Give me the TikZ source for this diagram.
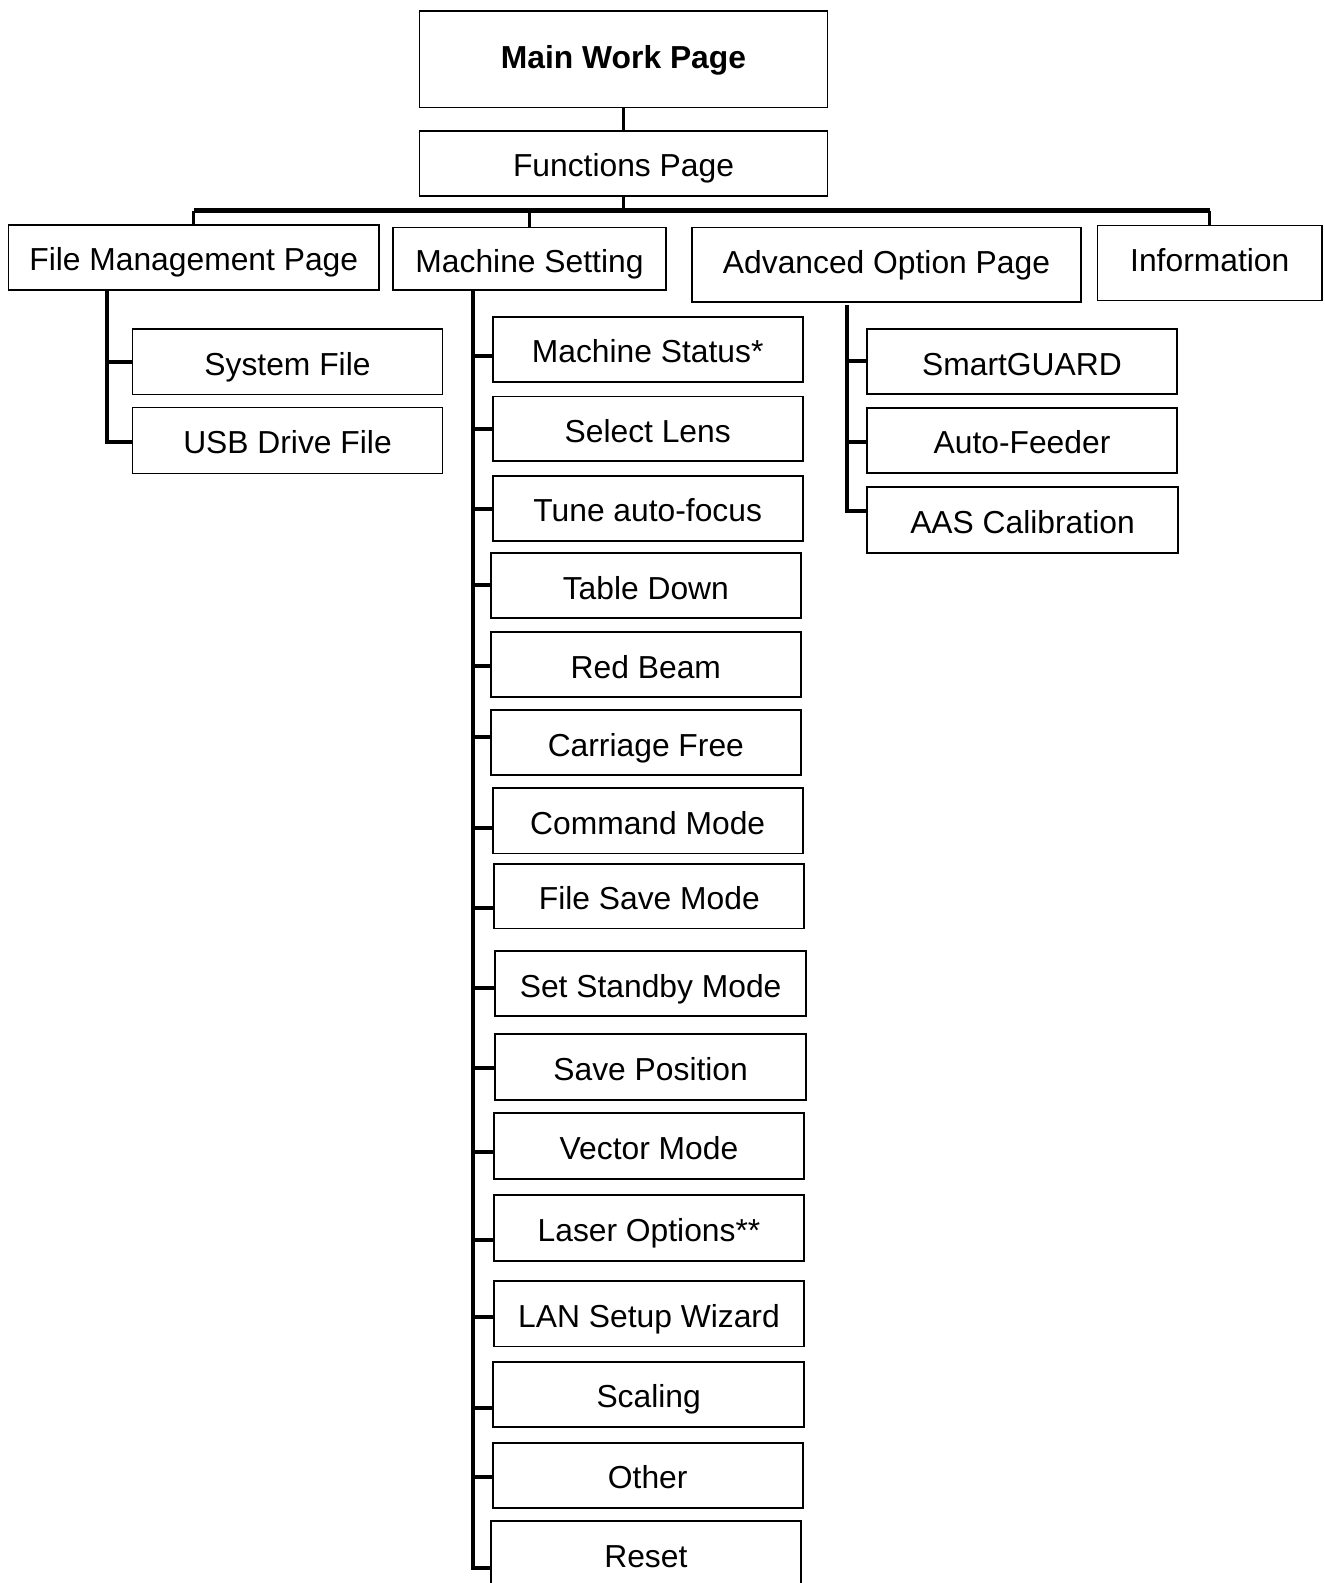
\documentclass[tikz,border=0pt]{standalone}
\usepackage{fontspec}
\setmainfont{Liberation Sans}
\usetikzlibrary{calc}
\begin{document}
\begin{tikzpicture}[x=1pt,y=-1pt,
  box/.style={draw, line width=1.8pt, inner sep=0pt, outer sep=0pt,
              font=\fontsize{31.8}{38}\selectfont, align=center,
              text height=28.2pt, text depth=1.4pt},
  tallbox/.style={box, text height=18.2pt, text depth=1.4pt},
  conn/.style={line width=4pt, line join=miter},
  thinconn/.style={line width=2.6pt},
  busline/.style={line width=5pt}]
\useasboundingbox[fill=white] (0,0) rectangle (1325,1583);

% top level
\node[box, text height=20.6pt, minimum width=408pt, minimum height=96.5pt] (main) at (623.5,59.25) {\textbf{Main Work Page}};
\node[box, minimum width=408pt, minimum height=65pt] (func) at (623.5,163.5) {Functions Page};

\node[box, minimum width=370.5pt, minimum height=65pt] (file) at (193.75,257.5) {File Management Page};
\node[box, minimum width=273pt, minimum height=62.5pt] (mach) at (529.5,258.75) {Machine Setting};
\node[tallbox, minimum width=389pt, minimum height=74.5pt] (adv) at (886.5,264.75) {Advanced Option Page};
\node[tallbox, minimum width=224.5pt, minimum height=75pt] (info) at (1209.75,263) {Information};

% file management children
\node[box, minimum width=310pt, minimum height=65.5pt] (sys) at (287.5,361.75) {System File};
\node[box, minimum width=310pt, minimum height=66pt] (usb) at (287.5,440.5) {USB Drive File};

% machine setting children
\node[box, minimum width=310pt, minimum height=64.7pt] (ms) at (647.7,349.55) {Machine Status*};
\node[box, minimum width=310pt, minimum height=64.7pt] (sl) at (647.7,428.75) {Select Lens};
\node[box, minimum width=310pt, minimum height=65.1pt] (ta) at (647.7,508.55) {Tune auto-focus};
\node[box, minimum width=310.3pt, minimum height=64.7pt] (td) at (645.85,585.65) {Table Down};
\node[box, minimum width=310.3pt, minimum height=65pt] (rb) at (645.85,664.7) {Red Beam};
\node[box, minimum width=310.3pt, minimum height=65pt] (cf) at (645.85,742.8) {Carriage Free};
\node[box, minimum width=310pt, minimum height=65.1pt] (cm) at (647.7,820.85) {Command Mode};
\node[box, minimum width=310pt, minimum height=64.7pt] (fs) at (649.3,896.05) {File Save Mode};
\node[box, minimum width=310.7pt, minimum height=65.4pt] (ss) at (650.65,983.6) {Set Standby Mode};
\node[box, minimum width=310.7pt, minimum height=65.4pt] (sp) at (650.65,1067) {Save Position};
\node[box, minimum width=310.6pt, minimum height=65.5pt] (vm) at (649,1145.95) {Vector Mode};
\node[box, minimum width=310.6pt, minimum height=66pt] (lo) at (649,1228.2) {Laser Options**};
\node[box, minimum width=310.6pt, minimum height=65.5pt] (lan) at (649,1313.65) {LAN Setup Wizard};
\node[box, minimum width=310.7pt, minimum height=65.5pt] (sc) at (648.65,1394.35) {Scaling};
\node[box, minimum width=310pt, minimum height=65pt] (ot) at (647.7,1475.3) {Other};
\node[box, minimum width=310.3pt, minimum height=65pt] (re) at (645.85,1553.8) {Reset};

% advanced option children
\node[box, minimum width=310.6pt, minimum height=65.3pt] (sg) at (1022,361.65) {SmartGUARD};
\node[box, minimum width=310.6pt, minimum height=65pt] (af) at (1022,440.2) {Auto-Feeder};
\node[box, minimum width=311.6pt, minimum height=65.4pt] (aas) at (1022.5,520) {AAS Calibration};

% top connectors
\draw[thinconn] (main.south) -- (func.north);
\draw[thinconn] (func.south) -- ++(0,14.7) coordinate (bj);
\draw[busline] (file.north |- bj) -- (info.north |- bj);
\draw[thinconn] (file.north |- bj) -- (file.north);
\draw[thinconn] (mach.north |- bj) -- (mach.north);
\draw[thinconn] (info.north |- bj) -- (info.north);

% file management tree
\draw[conn] ([xshift=-87pt]file.south) coordinate (ftop) |- ($(usb.west)+(0,1.2)$);
\draw[conn] (sys.west) -- (sys.west -| ftop);

% machine setting tree
\draw[conn] ([xshift=-57pt]mach.south) coordinate (mtop) |- ($(re.west)+(0,14.5)$);
\foreach \n/\d in {ms/6, sl/0.7, ta/0, td/-0.5, rb/1.2, cf/-5.4, cm/7.3, fs/11.8,
                   ss/4, sp/1.3, vm/5.7, lo/11.4, lan/3.6, sc/14, ot/2}
  \draw[conn] ($(\n.west)+(0,\d)$) coordinate (t) -- (t -| mtop);

% advanced option tree
\draw[conn] ([xshift=-39.8pt,yshift=-3pt]adv.south) coordinate (atop) |- ($(aas.west)+(0,-9.3)$);
\draw[conn] ($(sg.west)+(0,-1)$) coordinate (t) -- (t -| atop);
\draw[conn] ($(af.west)+(0,1.5)$) coordinate (t) -- (t -| atop);
\end{tikzpicture}
\end{document}
